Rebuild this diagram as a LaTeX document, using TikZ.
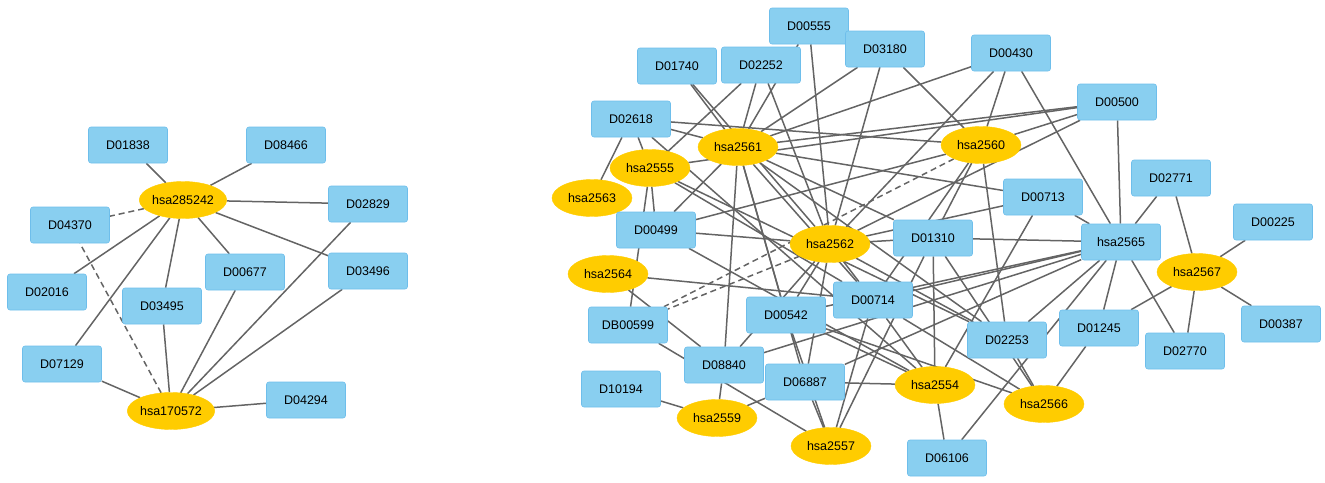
\documentclass[tikz,border=0pt]{standalone}
\usepackage{fontspec}
\setmainfont{Liberation Sans}
\usetikzlibrary{shapes.geometric}
\definecolor{drugblue}{RGB}{137,207,240}
\definecolor{drugline}{RGB}{110,190,235}
\definecolor{genegold}{RGB}{255,204,0}
\definecolor{linkgray}{RGB}{100,100,100}
\pgfdeclarelayer{bg}
\pgfsetlayers{bg,main}
\tikzset{
  drug/.style={rectangle, rounded corners=2.5pt, fill=drugblue, draw=drugline, line width=0.6pt,
    minimum width=79pt, minimum height=36pt, inner sep=0pt, font=\fontsize{12.5}{14}\selectfont},
  gene/.style={ellipse, fill=genegold, draw=genegold, minimum width=80pt, minimum height=37pt,
    inner sep=0pt, font=\fontsize{12.5}{14}\selectfont},
  link/.style={draw=linkgray, line width=1.5pt},
  weak/.style={link, dash pattern=on 6pt off 4pt}
}

\begin{document}
\begin{tikzpicture}[x=1pt, y=-1pt]
      \useasboundingbox (0,0) rectangle (1325,482);

      % left network
      \node[drug] (D01838) at (128,145) {D01838};
      \node[drug] (D08466) at (286,145) {D08466};
      \node[gene] (hsa285242) at (183,200) {hsa285242};
      \node[drug] (D02829) at (368,204) {D02829};
      \node[drug] (D04370) at (70,225) {D04370};
      \node[drug] (D02016) at (47,292) {D02016};
      \node[drug] (D03495) at (162,306) {D03495};
      \node[drug] (D00677) at (245,272) {D00677};
      \node[drug] (D03496) at (368,271) {D03496};
      \node[drug] (D07129) at (62,364) {D07129};
      \node[gene] (hsa170572) at (171,411) {hsa170572};
      \node[drug] (D04294) at (306,400) {D04294};

      % right network
      \node[drug] (D00555) at (809,26) {D00555};
      \node[drug] (D03180) at (885,49) {D03180};
      \node[drug] (D01740) at (677,66) {D01740};
      \node[drug] (D02252) at (761,65) {D02252};
      \node[drug] (D00430) at (1011,53) {D00430};
      \node[drug] (D00500) at (1117,102) {D00500};
      \node[drug] (D02618) at (631,119) {D02618};
      \node[gene] (hsa2561) at (738,147) {hsa2561};
      \node[gene] (hsa2560) at (981,145) {hsa2560};
      \node[gene] (hsa2555) at (650,168) {hsa2555};
      \node[gene] (hsa2563) at (592,198) {hsa2563};
      \node[drug] (D00713) at (1043,197) {D00713};
      \node[drug] (D02771) at (1171,178) {D02771};
      \node[drug] (D00225) at (1273,222) {D00225};
      \node[drug] (D00499) at (656,230) {D00499};
      \node[gene] (hsa2562) at (830,244) {hsa2562};
      \node[drug] (D01310) at (933,238) {D01310};
      \node[drug] (hsa2565) at (1121,242) {hsa2565};
      \node[gene] (hsa2567) at (1197,272) {hsa2567};
      \node[gene] (hsa2564) at (608,274) {hsa2564};
      \node[drug] (D00714) at (873,300) {D00714};
      \node[drug] (D00542) at (786,315) {D00542};
      \node[drug] (DB00599) at (628,325) {DB00599};
      \node[drug] (D00387) at (1281,324) {D00387};
      \node[drug] (D01245) at (1099,328) {D01245};
      \node[drug] (D02253) at (1007,340) {D02253};
      \node[drug] (D02770) at (1185,351) {D02770};
      \node[drug] (D08840) at (724,365) {D08840};
      \node[drug] (D06887) at (805,382) {D06887};
      \node[gene] (hsa2554) at (935,385) {hsa2554};
      \node[drug] (D10194) at (621,389) {D10194};
      \node[gene] (hsa2566) at (1044,404) {hsa2566};
      \node[gene] (hsa2559) at (717,418) {hsa2559};
      \node[gene] (hsa2557) at (831,446) {hsa2557};
      \node[drug] (D06106) at (947,458) {D06106};

      \begin{pgfonlayer}{bg}
        % left edges
        \foreach \a/\b in {hsa285242/D01838, hsa285242/D08466, hsa285242/D02829, hsa285242/D03496,
            hsa285242/D00677, hsa285242/D03495, hsa285242/D02016, hsa285242/D07129,
            hsa170572/D07129, hsa170572/D03495, hsa170572/D00677, hsa170572/D02829,
            hsa170572/D03496, hsa170572/D04294}
          \draw[link] (\a) -- (\b);
        \draw[weak] (hsa285242) -- (D04370);
        \draw[weak] (hsa170572) -- (D04370);

        % right edges
        \foreach \a/\b in {hsa2561/D02618, hsa2561/D01740, hsa2561/D02252, hsa2561/D00555,
            hsa2561/D03180, hsa2561/D00430, hsa2561/D00500, hsa2561/D00499, hsa2561/D08840,
            hsa2561/D00542, hsa2561/D00714, hsa2561/D00713, hsa2561/D01310, hsa2561/D02253,
            hsa2561/D06887,
            hsa2555/D02618, hsa2555/D02252, hsa2555/D00500, hsa2555/D00499, hsa2555/DB00599,
            hsa2555/D00714, hsa2555/D02253,
            hsa2563/D02618,
            hsa2560/D02618, hsa2560/D03180, hsa2560/D00430, hsa2560/D00500, hsa2560/D00499,
            hsa2560/D02253, hsa2560/D01310, hsa2560/D00714,
            hsa2562/D00555, hsa2562/D03180, hsa2562/D00430, hsa2562/D00500, hsa2562/D01740,
            hsa2562/D02252, hsa2562/D00499, hsa2562/D01310, hsa2562/D00713, hsa2562/D00714,
            hsa2562/D00542, hsa2562/D08840, hsa2562/D06887, hsa2562/D02253,
            hsa2564/D00714, hsa2564/D08840,
            hsa2559/D10194, hsa2559/D08840, hsa2559/D06887,
            hsa2557/D06887, hsa2557/D00714, hsa2557/DB00599, hsa2557/D01310, hsa2557/D00542,
            hsa2554/D02618, hsa2554/D00499, hsa2554/D01310, hsa2554/D00713, hsa2554/D06887,
            hsa2554/D00714, hsa2554/D00542, hsa2554/D06106,
            hsa2566/D02253, hsa2566/D01245, hsa2566/D01310, hsa2566/D00714, hsa2566/D00542,
            hsa2565/D00430, hsa2565/D00500, hsa2565/D02771, hsa2565/D00713, hsa2565/D01310,
            hsa2565/D01245, hsa2565/D02770, hsa2565/D00714, hsa2565/D08840, hsa2565/D06887,
            hsa2565/D00542, hsa2565/D06106, hsa2565/D02253,
            hsa2567/D02771, hsa2567/D00225, hsa2567/D00387, hsa2567/D02770, hsa2567/D01245}
          \draw[link] (\a) -- (\b);
        \draw[weak] (hsa2562) -- (DB00599);
        \draw[weak] (hsa2560) -- (DB00599);
      \end{pgfonlayer}
    \end{tikzpicture}
\end{document}
